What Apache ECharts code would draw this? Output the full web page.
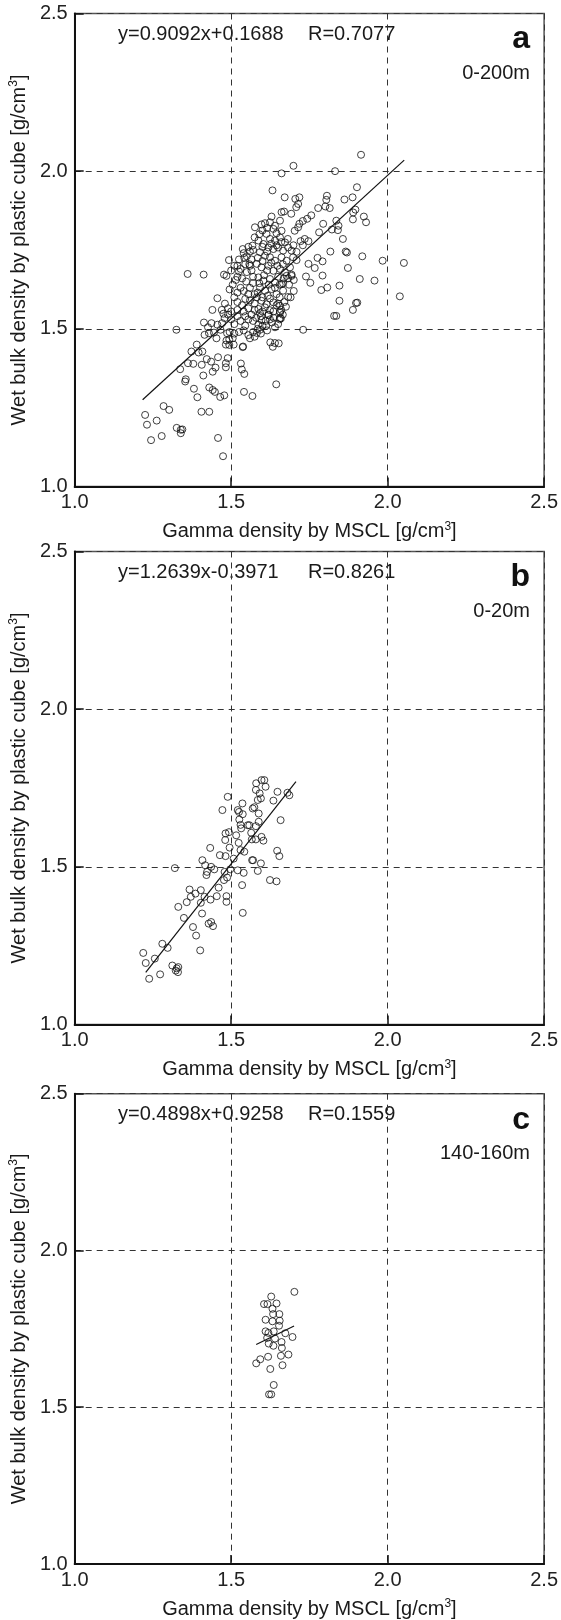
<!DOCTYPE html>
<html>
<head>
<meta charset="utf-8">
<script src="https://cdn.jsdelivr.net/npm/echarts@6/dist/echarts.min.js"></script>
<style>
html,body{margin:0;padding:0;background:#fff;}
#chart{width:561px;height:1620px;}
</style>
</head>
<body>
<div id="chart"></div>
<script>
// ---------- data ----------
const xTicks = [1.0, 1.5, 2.0, 2.5];
const yTicks = [1.0, 1.5, 2.0, 2.5];

const panelLabels = ['a', 'b', 'c'];
const depthLabels = ['0-200m', '0-20m', '140-160m'];
const equations = ['y=0.9092x+0.1688', 'y=1.2639x-0.3971', 'y=0.4898x+0.9258'];
const rValues = ['R=0.7077', 'R=0.8261', 'R=0.1559'];

const pointsA = [
[1.915,2.052],[1.699,2.017],[1.661,1.993],[1.832,2.000],[1.632,1.939],[1.671,1.917],[1.705,1.912],[1.718,1.917],[1.714,1.896],[1.708,1.886],
[1.692,1.865],[1.661,1.870],[1.669,1.872],[1.629,1.856],[1.806,1.922],[1.804,1.909],[1.778,1.883],[1.801,1.888],[1.815,1.883],[1.862,1.910],
[1.888,1.917],[1.902,1.949],[1.897,1.878],[1.890,1.869],[1.889,1.847],[1.924,1.856],[1.931,1.838],[1.756,1.860],[1.743,1.849],[1.729,1.842],
[1.718,1.833],[1.714,1.822],[1.703,1.811],[1.794,1.833],[1.836,1.843],[1.843,1.827],[1.822,1.815],[1.841,1.813],[1.781,1.806],[1.857,1.785],
[1.817,1.745],[1.866,1.745],[1.870,1.742],[1.919,1.730],[1.776,1.725],[1.792,1.714],[1.747,1.706],[1.767,1.693],[1.873,1.693],[1.984,1.716],
[1.739,1.666],[1.753,1.646],[1.792,1.669],[1.911,1.658],[1.958,1.653],[1.846,1.637],[1.807,1.631],[1.788,1.623],[1.846,1.589],[1.899,1.582],
[1.903,1.583],[1.889,1.560],[1.735,1.785],[1.722,1.778],[1.747,1.778],[1.729,1.765],[1.699,1.765],[1.681,1.785],[1.709,1.744],[1.709,1.718],
[1.693,1.668],[1.682,1.660],[1.666,1.644],[1.650,1.580],[1.624,1.596],[1.682,1.601],
[1.730,1.497],[2.052,1.709],[2.039,1.603],[1.829,1.541],[1.836,1.541],[1.644,1.324],[1.625,1.457],[1.633,1.443],[1.640,1.455],[1.652,1.454],
[1.568,1.287],[1.541,1.300],[1.542,1.357],[1.537,1.442],[1.656,1.534],[1.656,1.555],
[1.537,1.753],[1.568,1.764],[1.493,1.718],[1.361,1.674],[1.412,1.672],[1.477,1.672],[1.485,1.668],[1.456,1.597],[1.440,1.560],[1.470,1.560],
[1.325,1.497],[1.413,1.520],[1.426,1.505],[1.437,1.518],[1.456,1.513],[1.415,1.481],[1.429,1.486],[1.445,1.488],[1.453,1.470],[1.466,1.497],
[1.471,1.518],[1.479,1.534],[1.487,1.486],[1.485,1.463],[1.494,1.467],[1.483,1.450],[1.494,1.449],[1.508,1.450],[1.538,1.444],[1.390,1.450],
[1.373,1.428],[1.396,1.425],[1.408,1.428],[1.362,1.391],[1.337,1.372],[1.379,1.389],[1.406,1.386],[1.422,1.404],[1.436,1.396],[1.458,1.410],
[1.441,1.364],[1.450,1.377],[1.411,1.352],[1.489,1.407],[1.483,1.391],[1.483,1.378],[1.531,1.390],[1.534,1.371],[1.355,1.340],[1.353,1.333],
[1.381,1.310],[1.392,1.283],[1.430,1.314],[1.441,1.306],[1.448,1.300],[1.465,1.284],[1.478,1.289],[1.284,1.255],[1.302,1.243],[1.225,1.227],
[1.262,1.209],[1.231,1.196],[1.326,1.186],[1.339,1.180],[1.344,1.181],[1.339,1.169],[1.278,1.160],[1.244,1.147],[1.405,1.237],[1.430,1.237],
[1.458,1.154],[1.474,1.096],
[1.587,1.513],[1.592,1.497],[1.582,1.487],[1.597,1.528],[1.619,1.543],[1.624,1.530],[1.656,1.551],[1.659,1.533],[1.592,1.550],
[1.597,1.831],[1.608,1.835],[1.576,1.822],[1.624,1.838],[1.640,1.827],[1.656,1.843],[1.635,1.817],[1.645,1.803],[1.661,1.811],
[1.613,1.801],[1.624,1.785],[1.640,1.780],[1.656,1.790],[1.672,1.774],[1.587,1.780],[1.603,1.769],[1.619,1.758],[1.635,1.753],[1.650,1.758],
[1.666,1.748],[1.682,1.758],[1.693,1.748],[1.592,1.743],[1.608,1.732],[1.624,1.727],[1.640,1.716],[1.661,1.727],[1.677,1.716],[1.698,1.727],
[1.582,1.706],[1.597,1.695],[1.619,1.700],[1.635,1.684],[1.656,1.690],[1.672,1.679],[1.688,1.695],[1.587,1.663],[1.603,1.653],[1.624,1.658],
[1.640,1.647],[1.661,1.642],[1.677,1.668],[1.693,1.672],[1.592,1.631],[1.608,1.621],[1.629,1.626],[1.645,1.610],[1.666,1.621],[1.582,1.600],
[1.597,1.589],[1.613,1.578],[1.635,1.584],[1.656,1.573],[1.587,1.563],[1.608,1.568],[1.624,1.559],
[1.550,1.730],[1.560,1.745],[1.542,1.725],[1.520,1.700],[1.530,1.690],[1.525,1.682],[1.520,1.665],[1.535,1.660],[1.550,1.680],[1.565,1.685],
[1.558,1.705],[1.530,1.630],[1.520,1.615],[1.540,1.620],[1.560,1.630],[1.570,1.645],[1.575,1.610],[1.480,1.580],[1.490,1.565],[1.475,1.548],
[1.510,1.600],[1.520,1.585],[1.535,1.575],[1.560,1.590],[1.575,1.580],[1.500,1.555],[1.520,1.560],[1.540,1.555],[1.555,1.565],[1.575,1.560],
[1.570,1.750],[1.565,1.720],[1.545,1.705],
[1.490,1.545],[1.500,1.530],[1.510,1.515],[1.520,1.540],[1.530,1.525],[1.545,1.510],[1.555,1.530],[1.565,1.545],[1.580,1.535],[1.595,1.540],
[1.610,1.525],[1.620,1.545],[1.600,1.510],[1.585,1.500],[1.570,1.490],[1.555,1.480],[1.540,1.495],[1.525,1.490],[1.510,1.485],[1.495,1.490],
[1.505,1.470],[1.560,1.470],[1.575,1.475],[1.595,1.485],[1.615,1.495],[1.630,1.520],[1.640,1.505],[1.655,1.530],[1.665,1.545],[1.635,1.555],
[1.645,1.575],[1.660,1.560],[1.675,1.570],[1.655,1.600],[1.670,1.585],[1.690,1.600],[1.700,1.620],[1.685,1.640],[1.700,1.655],
[1.505,1.640],[1.515,1.655],[1.495,1.625],[1.510,1.700],[1.500,1.685],[1.525,1.720],[1.540,1.740],[1.555,1.760],[1.575,1.790],[1.590,1.800],
[1.600,1.812],[1.615,1.820],[1.600,1.760],[1.615,1.745],[1.628,1.770],[1.645,1.765],[1.660,1.775],[1.585,1.725],[1.600,1.715],[1.615,1.685],
[1.628,1.710],[1.648,1.700],[1.665,1.705],[1.605,1.670],[1.620,1.640],[1.650,1.665],[1.668,1.660],[1.590,1.645],[1.600,1.600],[1.617,1.605],
[1.640,1.630],[1.655,1.640],[1.570,1.665],[1.560,1.700],[1.548,1.650],[1.555,1.610],[1.545,1.595],[1.585,1.615],[1.570,1.525],[1.545,1.540],
[1.600,1.555],[1.612,1.510],[1.635,1.535],[1.650,1.515]
];

const pointsB = [
[1.219,1.227],[1.227,1.195],[1.238,1.145],[1.256,1.209],[1.273,1.159],[1.280,1.256],[1.297,1.243],[1.312,1.187],[1.323,1.171],[1.331,1.182],
[1.326,1.178],[1.330,1.166],[1.320,1.496],[1.331,1.373],[1.349,1.338],[1.358,1.388],[1.367,1.428],[1.371,1.405],[1.378,1.309],[1.388,1.282],
[1.386,1.415],[1.401,1.235],[1.403,1.386],[1.403,1.426],[1.407,1.352],[1.408,1.521],[1.415,1.405],[1.417,1.505],[1.421,1.474],[1.423,1.484],
[1.428,1.320],[1.433,1.560],[1.434,1.396],[1.436,1.325],[1.442,1.312],[1.436,1.500],[1.446,1.492],[1.454,1.407],[1.460,1.434],[1.464,1.537],
[1.472,1.680],[1.477,1.458],[1.479,1.484],[1.481,1.585],[1.482,1.534],[1.482,1.606],[1.485,1.407],[1.485,1.389],[1.487,1.466],[1.489,1.722],
[1.493,1.610],[1.495,1.561],[1.497,1.492],[1.508,1.526],[1.516,1.600],[1.521,1.680],[1.521,1.489],[1.525,1.674],[1.524,1.576],[1.526,1.650],
[1.530,1.633],[1.532,1.622],[1.530,1.553],[1.535,1.442],[1.536,1.701],[1.537,1.667],[1.537,1.354],[1.540,1.481],[1.542,1.548],[1.553,1.632],
[1.558,1.632],[1.564,1.608],[1.566,1.587],[1.567,1.521],[1.570,1.521],[1.569,1.685],[1.574,1.689],[1.579,1.629],[1.579,1.587],[1.579,1.744],
[1.580,1.765],[1.585,1.712],[1.588,1.669],[1.585,1.487],[1.588,1.643],[1.591,1.733],[1.595,1.511],[1.595,1.717],[1.597,1.775],[1.597,1.595],
[1.606,1.775],[1.603,1.583],[1.610,1.754],[1.624,1.458],[1.635,1.710],[1.647,1.551],[1.645,1.454],[1.648,1.738],[1.654,1.534],[1.658,1.648],
[1.680,1.735],[1.686,1.727]
];

const pointsC = [
[1.702,1.868],[1.628,1.853],[1.605,1.829],[1.616,1.829],[1.645,1.831],[1.632,1.814],[1.634,1.797],[1.654,1.797],[1.655,1.776],[1.610,1.779],
[1.632,1.774],[1.653,1.760],[1.610,1.742],[1.619,1.737],[1.636,1.742],[1.673,1.736],[1.696,1.724],[1.615,1.721],[1.640,1.719],[1.620,1.703],
[1.635,1.696],[1.661,1.708],[1.662,1.689],[1.580,1.640],[1.593,1.653],[1.618,1.661],[1.625,1.622],[1.659,1.664],[1.683,1.668],[1.664,1.634],
[1.636,1.571],[1.621,1.541],[1.628,1.541]
];

const fitA = [[1.217,1.275],[2.053,2.035]];
const fitB = [[1.227,1.165],[1.707,1.770]];
const fitC = [[1.580,1.700],[1.701,1.759]];

// ---------- chart ----------
const FONT = '"Liberation Sans", Arial, sans-serif';
const gridTops = [13.5, 551.5, 1093.7];
const GL = 73, GW = 472, GH = 473;

const rich = {
  t: {fontSize: 20, fontFamily: FONT, color: '#1a1a1a', lineHeight: 22},
  s: {fontSize: 12, fontFamily: FONT, color: '#1a1a1a', verticalAlign: 'top', lineHeight: 22}
};

const grids = [], xAxes = [], yAxes = [], series = [], graphics = [];
const allPoints = [pointsA, pointsB, pointsC];
const allFits = [fitA, fitB, fitC];

for (let i = 0; i < 3; i++) {
  grids.push({left: GL, top: gridTops[i], width: GW, height: GH, show: true,
    borderColor: '#555', borderWidth: 1.5, backgroundColor: 'transparent'});
  const common = {
    type: 'value', gridIndex: i, min: xTicks[0], max: xTicks[xTicks.length - 1], interval: 0.5,
    axisLine: {show: true, onZero: false, lineStyle: {color: '#111', width: 2}},
    axisTick: {show: true, inside: true, length: 9, lineStyle: {color: '#111', width: 1.5}},
    axisLabel: {fontSize: 20, fontFamily: FONT, color: '#222', formatter: v => v.toFixed(1), showMinLabel: true, showMaxLabel: true},
    splitLine: {show: true, lineStyle: {color: '#333', width: 1, type: [6, 5]}},
    nameLocation: 'middle',
    nameTextStyle: {rich: rich}
  };
  xAxes.push(Object.assign({}, common, {
    name: '{t|Gamma density by MSCL [g/cm}{s|3}{t|]}', nameGap: 34,
    axisLabel: Object.assign({}, common.axisLabel, {margin: 6})
  }));
  yAxes.push(Object.assign({}, common, {
    min: yTicks[0], max: yTicks[yTicks.length - 1],
    name: '{t|Wet bulk density by plastic cube [g/cm}{s|3}{t|]}', nameGap: 42, nameRotate: 90,
    axisLabel: Object.assign({}, common.axisLabel, {margin: 7})
  }));
  series.push({
    type: 'scatter', xAxisIndex: i, yAxisIndex: i, data: allPoints[i],
    symbol: 'circle', symbolSize: 7, silent: true,
    itemStyle: {color: 'rgba(0,0,0,0)', borderColor: '#111', borderWidth: 1}
  });
  series.push({
    type: 'line', xAxisIndex: i, yAxisIndex: i, data: allFits[i],
    showSymbol: false, silent: true, lineStyle: {color: '#111', width: 1.2}
  });
  const T = gridTops[i];
  graphics.push({type: 'text', x: 118, y: T + 21, silent: true,
    style: {text: equations[i], font: '20px ' + FONT, fill: '#1a1a1a', align: 'left', verticalAlign: 'middle'}});
  graphics.push({type: 'text', x: 308, y: T + 21, silent: true,
    style: {text: rValues[i], font: '20px ' + FONT, fill: '#1a1a1a', align: 'left', verticalAlign: 'middle'}});
  graphics.push({type: 'text', x: 530, y: T + 26, silent: true,
    style: {text: panelLabels[i], font: 'bold 32px ' + FONT, fill: '#111', align: 'right', verticalAlign: 'middle'}});
  graphics.push({type: 'text', x: 530, y: T + 60, silent: true,
    style: {text: depthLabels[i], font: '20px ' + FONT, fill: '#1a1a1a', align: 'right', verticalAlign: 'middle'}});
}

const chart = echarts.init(document.getElementById('chart'), null, {renderer: 'canvas'});
chart.setOption({
  animation: false,
  backgroundColor: '#fff',
  grid: grids,
  xAxis: xAxes,
  yAxis: yAxes,
  series: series,
  graphic: graphics
});
</script>
</body>
</html>
